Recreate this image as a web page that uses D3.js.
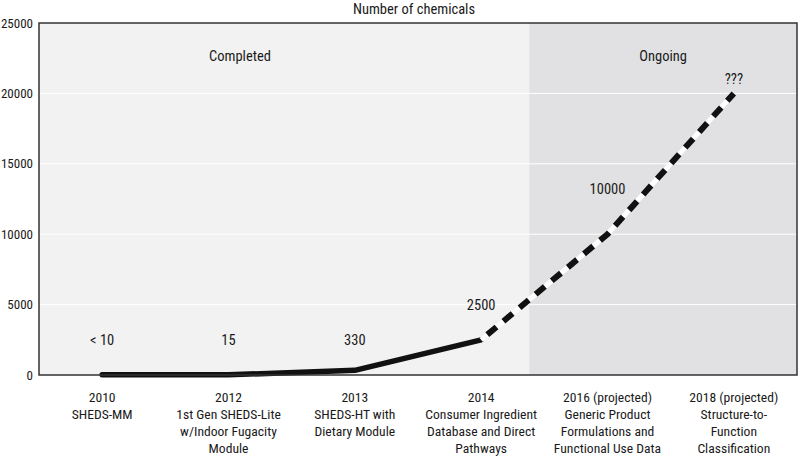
<!DOCTYPE html>
<html><head><meta charset="utf-8">
<script src="https://cdn.jsdelivr.net/npm/d3@7"></script>
<style>
body{margin:0;background:#fff;}
text{font-family:"Liberation Sans Narrow","Roboto Condensed","Open Sans",sans-serif;fill:#1a1a1a;}
</style></head><body>
<svg id="c" width="800" height="456"></svg>
<script>
const categories = ["2010","2012","2013","2014","2016","2018"];
const xLabels = [
  ["2010","SHEDS-MM"],
  ["2012","1st Gen SHEDS-Lite","w/Indoor Fugacity","Module"],
  ["2013","SHEDS-HT with","Dietary Module"],
  ["2014","Consumer Ingredient","Database and Direct","Pathways"],
  ["2016 (projected)","Generic Product","Formulations and","Functional Use Data"],
  ["2018 (projected)","Structure-to-","Function","Classification"]
];
const values = [10, 15, 330, 2500, 10000, 20000];
const valueLabels = ["< 10","15","330","2500","10000","???"];
const yTicks = [0,5000,10000,15000,20000,25000];
const title = "Number of chemicals";

const svg = d3.select("#c");
const m = {l:39, r:3, t:23, b:81};
const W = 800, H = 456;
const iw = W - m.l - m.r, ih = H - m.t - m.b;
const g = svg.append("g").attr("transform",`translate(${m.l},${m.t})`);

const x = d3.scaleBand().domain(categories).range([0, iw]).padding(0);
const y = d3.scaleLinear().domain([0,25000]).range([ih,0]);
const cx = c => x(c) + x.bandwidth()/2;

// backgrounds
const ongoingStart = (cx("2014") + cx("2016"))/2 - 15;
g.append("rect").attr("x",0).attr("y",0).attr("width",iw).attr("height",ih).attr("fill","#f2f2f2");
g.append("rect").attr("x",ongoingStart).attr("y",0).attr("width",iw-ongoingStart).attr("height",ih).attr("fill","#e1e1e3");

// grid
g.selectAll(".grid").data(yTicks.slice(1,-1)).enter().append("line")
  .attr("x1",0).attr("x2",iw).attr("y1",d=>y(d)).attr("y2",d=>y(d))
  .attr("stroke","#fff").attr("stroke-width",1);

// region labels
g.append("text").attr("x",ongoingStart*0.41).attr("y",y(22300)).attr("text-anchor","middle")
  .attr("font-size",14.5).text("Completed");
g.append("text").attr("x",(ongoingStart+iw)/2).attr("y",y(22300)).attr("text-anchor","middle")
  .attr("font-size",14.5).text("Ongoing");

// line
const pts = categories.map((c,i)=>[cx(c), y(values[i])]);
const line = d3.line().curve(d3.curveLinear);
const solid = pts.slice(0,4), dashed = pts.slice(3);
g.append("path").attr("d",line(solid)).attr("fill","none").attr("stroke","#111")
  .attr("stroke-width",5.5).attr("stroke-linecap","round").attr("stroke-linejoin","round");
g.append("path").attr("d",line(dashed)).attr("fill","none").attr("stroke","#fff")
  .attr("stroke-width",5).attr("stroke-linejoin","round");
g.append("path").attr("d",line(dashed)).attr("fill","none").attr("stroke","#111")
  .attr("stroke-width",6).attr("stroke-dasharray","12,9").attr("stroke-dashoffset",-8)
  .attr("stroke-linecap","butt").attr("stroke-linejoin","round");

// value labels
const labelY = [2500,2500,2500,4950,13200,21000];
g.selectAll(".vl").data(categories).enter().append("text")
  .attr("x",d=>cx(d)).attr("y",(d,i)=>y(labelY[i]))
  .attr("text-anchor","middle").attr("font-size",14.5).attr("dy","0.35em")
  .text((d,i)=>valueLabels[i]);

// border
g.append("rect").attr("x",0).attr("y",0).attr("width",iw).attr("height",ih)
  .attr("fill","none").attr("stroke","#333").attr("stroke-width",1.5);

// y axis labels
g.selectAll(".yt").data(yTicks).enter().append("text")
  .attr("x",-6).attr("y",d=>y(d)).attr("dy","0.35em").attr("text-anchor","end")
  .attr("font-size",13).text(d=>d);

// x labels
const xl = g.selectAll(".xl").data(categories).enter().append("text")
  .attr("x",d=>cx(d)).attr("y",ih+27).attr("text-anchor","middle").attr("font-size",13.6);
xl.each(function(d,i){
  const t = d3.select(this);
  xLabels[i].forEach((s,j)=>{
    t.append("tspan").attr("x",cx(d)).attr("dy", j===0?0:17).text(s);
  });
});

// title
svg.append("text").attr("x",m.l+iw/2 - 4).attr("y",14).attr("text-anchor","middle")
  .attr("font-size",14.5).text(title);
</script>
</body></html>
